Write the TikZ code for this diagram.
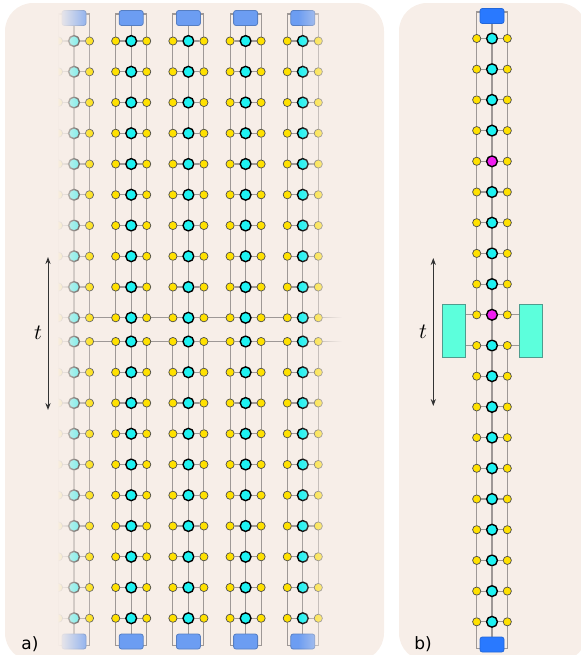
\documentclass[tikz,border=0pt]{standalone}
\usepackage{fontspec}
\newfontfamily\panelfont{DejaVu Sans}
\usepackage{tikz}
\usetikzlibrary{positioning,arrows.meta,backgrounds,fadings}
\definecolor{paper}{HTML}{F7EEE8}
\definecolor{wiregray}{HTML}{9E9896}
\definecolor{cyanish}{HTML}{1EF2F2}
\definecolor{yellowish}{HTML}{FFE100}
\definecolor{magentaish}{HTML}{F01EF0}
\definecolor{boundA}{HTML}{6C9DF2}
\definecolor{boundB}{HTML}{2979FF}
\definecolor{bathfill}{HTML}{5CFFDC}
\definecolor{bathdraw}{HTML}{4F9C8E}
\tikzfading[name=fade out east, left color=transparent!0, right color=transparent!100]
\tikzfading[name=fade in east, left color=transparent!100, right color=transparent!0]
\tikzset{
  wire/.style={draw=wiregray, line width=0.55pt},
  spin/.style={circle, draw=black!70, line width=0.35pt, fill=yellowish,
               inner sep=0pt, minimum size=4.1pt},
  site/.style={circle, draw=black, line width=0.7pt, fill=cyanish,
               inner sep=0pt, minimum size=5.4pt},
  endblock/.style={rectangle, rounded corners=1.2pt, line width=0.4pt, inner sep=0pt,
                   minimum width=12pt, minimum height=7.5pt},
  bath/.style={rectangle, draw=bathdraw, line width=0.5pt, fill=bathfill,
               inner sep=0pt, minimum width=11.5pt, minimum height=26.5pt},
  timearrow/.style={draw=black!80, line width=0.5pt, <->, >={Stealth[length=3.5pt,width=2.6pt]}},
}

\begin{document}
\begin{tikzpicture}[x=0.5pt,y=-0.5pt]
  \useasboundingbox (0,0) rectangle (581,655);
  \begin{scope}[on background layer]
    \fill[paper, rounded corners=14pt] (5,3) rectangle (384,661);
    \fill[paper, rounded corners=14pt] (399,3) rectangle (587,661);
  \end{scope}

  % a) five chains, cut between rows 9 and 10
  \foreach \c in {0,...,4}{
    \pgfmathsetmacro\cx{74+57.2*\c}
    \node[endblock, fill=boundA, draw=boundA!80!black] (a\c-top) at (\cx,18) {};
    \node[endblock, fill=boundA, draw=boundA!80!black] (a\c-bot) at (\cx,641.5) {};
    \coordinate (a\c-tl) at (\cx-15.5,14);
    \coordinate (a\c-tr) at (\cx+15.5,14);
    \coordinate (a\c-bl) at (\cx-15.5,645.5);
    \coordinate (a\c-br) at (\cx+15.5,645.5);
    \foreach \i in {0,...,19}{
      \pgfmathsetmacro\ry{\i<10 ? 41+30.75*\i : 341.5+30.75*(\i-10)}
      \node[site] (a\c-\i) at (\cx,\ry) {};
      \node[spin] (a\c-\i-l) at (\cx-15.5,\ry) {};
      \node[spin] (a\c-\i-r) at (\cx+15.5,\ry) {};
    }
  }
  \coordinate[left=3pt of a0-9-l] (cutL9);
  \coordinate[left=3pt of a0-10-l] (cutL10);
  \coordinate[right=10pt of a4-9-r] (cutR9);
  \coordinate[right=10pt of a4-10-r] (cutR10);

  % b) single chain with two baths
  \node[endblock, fill=boundB, draw=boundB!85!black] (b-top) at (492,16) {};
  \node[endblock, fill=boundB, draw=boundB!85!black] (b-bot) at (492,644.5) {};
  \coordinate (b-tl) at (476.7,12);
  \coordinate (b-tr) at (507.3,12);
  \coordinate (b-bl) at (476.7,648.5);
  \coordinate (b-br) at (507.3,648.5);
  \foreach \i in {0,...,19}{
    \pgfmathsetmacro\ry{38.5+30.7*\i}
    \ifnum\i=4 \def\fillcol{magentaish}\else\ifnum\i=9 \def\fillcol{magentaish}\else\def\fillcol{cyanish}\fi\fi
    \node[site, fill=\fillcol] (b-\i) at (492,\ry) {};
    \node[spin] (b-\i-l) at (476.7,\ry) {};
    \node[spin] (b-\i-r) at (507.3,\ry) {};
  }
  \node[bath] (bathL) at (454.2,330.5) {};
  \node[bath] (bathR) at (531,330.5) {};

  \begin{scope}[on background layer]
    \foreach \c in {0,...,4}{
      \draw[wire] (a\c-top) -- (a\c-0);
      \draw[wire] (a\c-19) -- (a\c-bot);
      \draw[wire] (a\c-0-l) -- (a\c-tl) -- (a\c-tr) -- (a\c-0-r);
      \draw[wire] (a\c-19-l) -- (a\c-bl) -- (a\c-br) -- (a\c-19-r);
      \foreach \i [count=\j from 1] in {0,...,18}{
        \draw[wire] (a\c-\i) -- (a\c-\j);
        \ifnum\i=9 \else
          \draw[wire] (a\c-\i-l) -- (a\c-\j-l);
          \draw[wire] (a\c-\i-r) -- (a\c-\j-r);
        \fi
      }
      \foreach \i in {0,...,19}
        \draw[wire] (a\c-\i-l) -- (a\c-\i) -- (a\c-\i-r);
    }
    \foreach \i in {9,10}{
      \draw[wire] (cutL\i) -- (a0-\i-l);
      \draw[wire] (a4-\i-r) -- (cutR\i);
      \foreach \c [count=\d from 1] in {0,...,3}
        \draw[wire] (a\c-\i-r) -- (a\d-\i-l);
    }

    \draw[wire] (b-top) -- (b-0);
    \draw[wire] (b-19) -- (b-bot);
    \draw[wire] (b-0-l) -- (b-tl) -- (b-tr) -- (b-0-r);
    \draw[wire] (b-19-l) -- (b-bl) -- (b-br) -- (b-19-r);
    \foreach \i [count=\j from 1] in {0,...,18}{
      \draw[wire] (b-\i) -- (b-\j);
      \ifnum\i=9 \else
        \draw[wire] (b-\i-l) -- (b-\j-l);
        \draw[wire] (b-\i-r) -- (b-\j-r);
      \fi
    }
    \foreach \i in {0,...,19}
      \draw[wire] (b-\i-l) -- (b-\i) -- (b-\i-r);
    \foreach \i in {9,10}{
      \draw[wire] (b-\i-l) -- (b-\i-l -| bathL.east);
      \draw[wire] (b-\i-r) -- (b-\i-r -| bathR.west);
    }
  \end{scope}

  % soft edges of the lattice in a)
  \fill[paper] (40,6) rectangle (57.5,655);
  \fill[paper, path fading=fade out east] (57,6) rectangle (98,655);
  \fill[paper, path fading=fade in east] (298,6) rectangle (342,655);
  \fill[paper] (341.5,6) rectangle (362,655);

  \coordinate (ta-top) at (48,257);
  \coordinate (ta-bot) at (48,410);
  \draw[timearrow] (ta-top) -- (ta-bot);
  \node[font=\fontsize{10.5}{12}\selectfont] (ta-lab) at (38,333) {$t$};
  \coordinate (tb-top) at (433.3,258);
  \coordinate (tb-bot) at (433.3,406);
  \draw[timearrow] (tb-top) -- (tb-bot);
  \node[font=\fontsize{10.5}{12}\selectfont] (tb-lab) at (423,331.5) {$t$};

  \node[font=\panelfont\fontsize{8.5}{10}\selectfont] (lab-a) at (30,644) {a)};
  \node[font=\panelfont\fontsize{8.5}{10}\selectfont] (lab-b) at (423,644) {b)};
\end{tikzpicture}
\end{document}
